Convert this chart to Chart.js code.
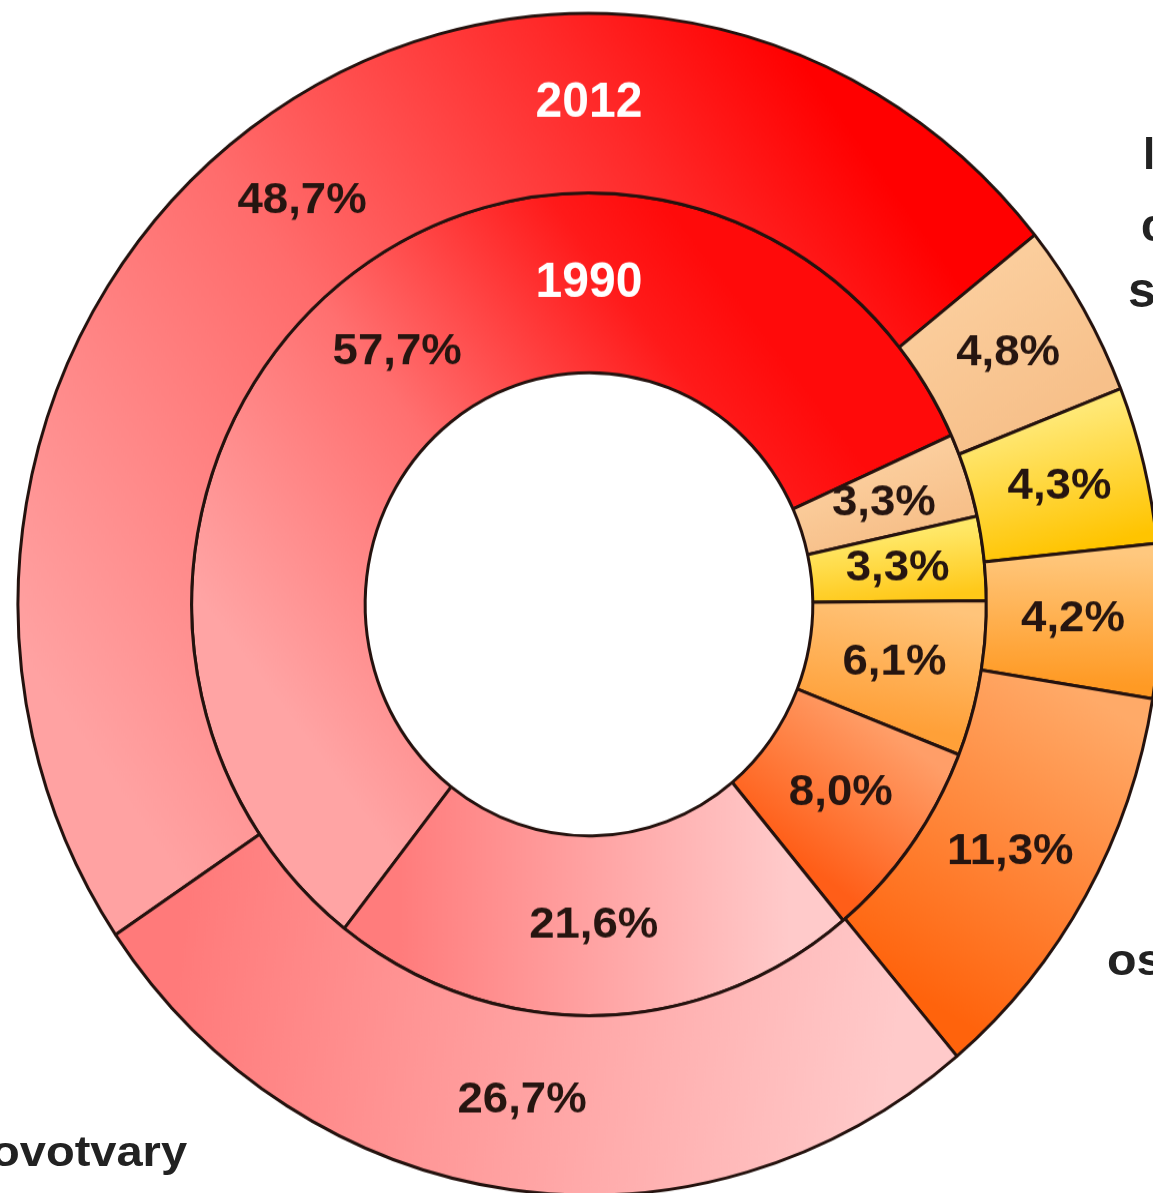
<!DOCTYPE html>
<html><head><meta charset="utf-8">
<script src="https://cdn.jsdelivr.net/npm/chart.js@4.4.1/dist/chart.umd.min.js"></script>
<style>
html,body{margin:0;padding:0;background:#fff;overflow:hidden;width:1153px;height:1193px;position:relative;}
#wrap{position:absolute;left:9px;top:4px;width:1160px;height:1160px;transform-origin:0 0;transform:scaleY(1.035);}
.lbl{position:absolute;white-space:nowrap;font-family:"Liberation Sans",Arial,sans-serif;font-weight:bold;color:#222;line-height:1;transform-origin:0 0;}
</style></head>
<body>
<div id="wrap"><canvas id="c"></canvas></div>
<div class="lbl" style="left:-9px;top:1131px;font-size:42px;transform:scaleX(1.12)">ovotvary</div>
<div class="lbl" style="left:1107px;top:938px;font-size:44px;transform:scaleX(1.1)">os</div>
<div class="lbl" style="left:1143px;top:132px;font-size:44px;">l</div>
<div class="lbl" style="left:1141px;top:202px;font-size:46px;">c</div>
<div class="lbl" style="left:1128px;top:265px;font-size:50px;">s</div>
<script>
// ---- data ----
const categories = ['kategorie 1','kategorie 2','kategorie 3','kategorie 4','kategorie 5','kategorie 6'];
const years = ['2012','1990'];
const values2012 = [48.7, 4.8, 4.3, 4.2, 11.3, 26.7];
const values1990 = [57.7, 3.3, 3.3, 6.1, 8.0, 21.6];

// ---- styles ----
const stopsOuter = [
  [[0,'#ffa2a2'],[0.45,'#ff6c6c'],[0.8,'#ff2a2a'],[1,'#ff0000']],
  [[0,'#fbcd9c'],[1,'#f7c08a']],
  [[0,'#ffe874'],[1,'#ffc400']],
  [[0,'#ffc87e'],[1,'#ff9a24']],
  [[0,'#ffaa68'],[1,'#ff630c']],
  [[0,'#ffcaca'],[1,'#ff7a7a']]
];
const stopsInner = [
  [[0,'#ffa4a4'],[0.45,'#ff7070'],[0.85,'#ff1a1a'],[1,'#ff0a0a']],
  [[0,'#fbcd9c'],[1,'#f7c08a']],
  [[0,'#ffe868'],[1,'#ffc818']],
  [[0,'#ffc47a'],[1,'#ffa038']],
  [[0,'#ff9e68'],[1,'#ff5e18']],
  [[0,'#ffcaca'],[1,'#ff7c7c']]
];
const borderCol = '#24120e';

function segGrad(c, stops) {
  const chart = c.chart, area = chart.chartArea;
  if (!area) return stops[0][1];
  const ds = chart.data.datasets[c.datasetIndex];
  const ctrl = chart.getDatasetMeta(c.datasetIndex).controller;
  const data = ds.data;
  const total = data.reduce((a, b) => a + b, 0);
  let start = ds.rotation;
  for (let k = 0; k < c.dataIndex; k++) start += data[k] / total * 360;
  const end = start + data[c.dataIndex] / total * 360;
  const cx = (area.left + area.right) / 2, cy = (area.top + area.bottom) / 2;
  const r = ((ctrl.outerRadius || 0) + (ctrl.innerRadius || 0)) / 2;
  const pt = a => [cx + r * Math.sin(a * Math.PI / 180), cy - r * Math.cos(a * Math.PI / 180)];
  const p0 = pt(start), p1 = pt(end);
  const g = chart.ctx.createLinearGradient(p0[0], p0[1], p1[0], p1[1]);
  stops.forEach(s => g.addColorStop(s[0], s[1]));
  return g;
}

const fmt = v => v.toFixed(1).replace('.', ',') + '%';

const labelPlugin = {
  id: 'segLabels',
  afterDatasetsDraw(chart) {
    const ctx = chart.ctx;
    chart.data.datasets.forEach((ds, di) => {
      const meta = chart.getDatasetMeta(di);
      meta.data.forEach((arc, i) => {
        const p = arc.getCenterPoint(true);
        ctx.save();
        ctx.font = 'bold 43px "Liberation Sans", Arial, sans-serif';
        ctx.fillStyle = '#261510';
        ctx.textAlign = 'center';
        ctx.textBaseline = 'middle';
        ctx.translate(p.x, p.y);
        ctx.scale(1.06, 1);
        ctx.fillText(fmt(ds.data[i]), 0, 0);
        ctx.restore();
      });
      const a0 = meta.data[0];
      const pr = a0.getProps(['x', 'y', 'innerRadius', 'outerRadius'], true);
      ctx.save();
      ctx.font = 'bold 48px "Liberation Sans", Arial, sans-serif';
      ctx.fillStyle = '#ffffff';
      ctx.textAlign = 'center';
      ctx.textBaseline = 'middle';
      ctx.fillText(ds.label, pr.x, pr.y - (pr.innerRadius + pr.outerRadius) / 2);
      ctx.restore();
    });
  }
};

new Chart(document.getElementById('c'), {
  type: 'doughnut',
  data: {
    labels: categories,
    datasets: [
      { label: years[0], data: values2012, rotation: 236,
        backgroundColor: c => segGrad(c, stopsOuter[c.dataIndex]),
        borderColor: borderCol, borderWidth: 3 },
      { label: years[1], data: values1990, rotation: 218,
        backgroundColor: c => segGrad(c, stopsInner[c.dataIndex]),
        borderColor: borderCol, borderWidth: 3 }
    ]
  },
  options: {
    responsive: true,
    maintainAspectRatio: false,
    animation: false,
    radius: 571,
    cutout: '39.2%',
    layout: { padding: 0 },
    plugins: { legend: { display: false }, tooltip: { enabled: false } }
  },
  plugins: [labelPlugin]
});
</script>
</body></html>
